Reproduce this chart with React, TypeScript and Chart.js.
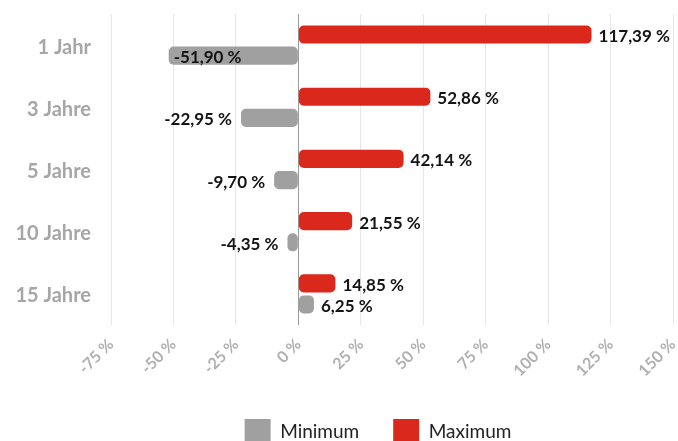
import React, { useEffect, useRef } from 'react';
import { Chart, registerables } from 'chart.js';

Chart.register(...registerables);

const categories = ['1 Jahr', '3 Jahre', '5 Jahre', '10 Jahre', '15 Jahre'];
const maximumValues = [117.39, 52.86, 42.14, 21.55, 14.85];
const minimumValues = [-51.9, -22.95, -9.7, -4.35, 6.25];
const xMin = -75;
const xMax = 150;
const xStep = 25;

const FONT = 'Lato, "Noto Sans", sans-serif';
const RED = '#da291c';
const GRAY = '#a0a0a0';

const fmt = (v: number) => v.toFixed(2).replace('.', ',') + ' %';

const valueLabels = {
  id: 'valueLabels',
  afterLayout(chart: any) {
    if (chart.legend) {
      chart.legend.left -= 14;
      chart.legend.right -= 14;
    }
  },
  afterDatasetsDraw(chart: any) {
    const ctx = chart.ctx;
    const area = chart.chartArea;
    ctx.save();
    ctx.font = `bold 17px ${FONT}`;
    ctx.fillStyle = '#141414';
    ctx.textBaseline = 'middle';
    chart.data.datasets.forEach((ds: any, di: number) => {
      const meta = chart.getDatasetMeta(di);
      meta.data.forEach((bar: any, i: number) => {
        const v = ds.data[i] as number;
        const text = fmt(v);
        const w = ctx.measureText(text).width;
        const y = bar.y + 2;
        if (v >= 0) {
          ctx.textAlign = 'left';
          ctx.fillText(text, bar.x + 7, y);
        } else {
          const xr = bar.x - 9;
          if (xr - w < area.left) {
            ctx.textAlign = 'left';
            ctx.fillText(text, bar.x + 5, y);
          } else {
            ctx.textAlign = 'right';
            ctx.fillText(text, xr, y);
          }
        }
      });
    });
    ctx.restore();
  },
};

export default function App() {
  const ref = useRef<HTMLCanvasElement | null>(null);
  useEffect(() => {
    if (!ref.current) return;
    const chart = new Chart(ref.current, {
      type: 'bar',
      data: {
        labels: categories,
        datasets: [
          {
            label: 'Maximum',
            data: maximumValues,
            backgroundColor: RED,
            borderRadius: 5,
            borderSkipped: false,
            categoryPercentage: 0.68,
            barPercentage: 0.86,
          },
          {
            label: 'Minimum',
            data: minimumValues,
            backgroundColor: GRAY,
            borderRadius: 5,
            borderSkipped: false,
            categoryPercentage: 0.68,
            barPercentage: 0.86,
          },
        ],
      },
      options: {
        indexAxis: 'y',
        animation: false,
        responsive: false,
        layout: { padding: { top: 14, right: 5, left: 0, bottom: 0 } },
        scales: {
          x: {
            min: xMin,
            max: xMax,
            border: { display: false },
            grid: {
              drawTicks: false,
              color: (c: any) => (c.tick && c.tick.value === 0 ? '#9a9a9a' : '#e6e6e6'),
            },
            ticks: {
              stepSize: xStep,
              minRotation: 45,
              maxRotation: 45,
              padding: 10,
              color: '#b0b0b0',
              font: { family: FONT, size: 16, weight: 'bold' },
              callback: (v: any) => `${v} %`,
            },
            afterFit: (s: any) => {
              s.height = 60;
              s.paddingLeft = 0;
              s.paddingRight = 0;
            },
          },
          y: {
            border: { display: false },
            grid: { display: false, drawTicks: false },
            ticks: {
              padding: 20,
              labelOffset: 2,
              color: '#a6a6a6',
              font: { family: FONT, size: 20, weight: 'bold' },
            },
            afterFit: (s: any) => {
              s.width = 111;
              s.paddingTop = 0;
              s.paddingBottom = 0;
            },
          },
        },
        plugins: {
          tooltip: { enabled: false },
          legend: {
            position: 'bottom',
            reverse: true,
            fullSize: false,
            labels: {
              boxWidth: 26,
              boxHeight: 26,
              padding: 34,
              color: '#222',
              font: { family: FONT, size: 19 },
            },
          },
        },
      },
      plugins: [valueLabels],
    } as any);
    return () => chart.destroy();
  }, []);
  return (
    <div style={{ position: 'absolute', left: 0, top: 0, width: 678, height: 455 }}>
      <canvas ref={ref} width={678} height={455} />
    </div>
  );
}
